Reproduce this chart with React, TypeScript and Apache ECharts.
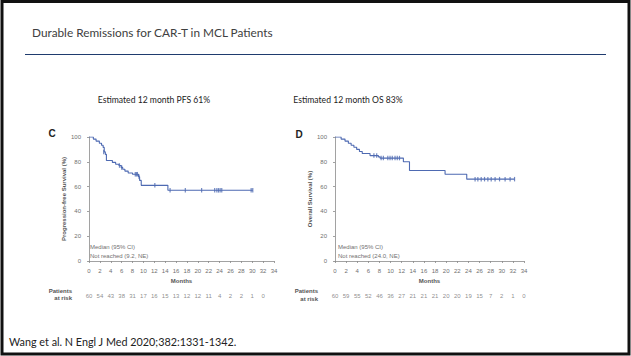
import React, { useEffect, useRef } from "react";
import * as echarts from "echarts";

// Kaplan–Meier steps (months, survival %)
const pfsTimes = [0, 0.8, 1.3, 1.9, 2.3, 2.6, 2.8, 3.0, 3.2, 4.3, 4.9, 5.5, 5.9, 6.2, 6.6, 7.2, 8.0, 9.1, 9.3, 9.6, 14.5, 30.1];
const pfsSurv = [100, 98.3, 96.7, 95, 93.3, 91.6, 88, 86, 81, 79.5, 78, 77, 75.5, 74, 72.5, 71, 70, 68, 65, 61, 57, 57];
const pfsCensorTimes = [2.7, 5.6, 6.0, 8.5, 8.7, 8.9, 9.2, 12.1, 14.9, 17.7, 20.7, 23.1, 23.5, 23.8, 24.1, 24.4, 29.8, 30.1];
const pfsCensorSurv = [88, 77, 75.5, 70, 70, 70, 68, 61, 57, 57, 57, 57, 57, 57, 57, 57, 57, 57];

const osTimes = [0, 1.1, 1.8, 2.4, 2.9, 3.4, 3.9, 4.4, 4.9, 6.3, 7.8, 8.1, 12.3, 13.4, 19.8, 23.7, 32.3];
const osSurv = [100, 98.3, 96.7, 95, 93.3, 91.7, 90, 88.3, 86.7, 85, 84, 83, 80, 73, 70, 66, 66];
const osCensorTimes = [7.0, 7.5, 8.3, 8.7, 9.5, 9.9, 10.3, 10.8, 11.2, 11.6, 25.2, 25.7, 26.3, 26.9, 27.5, 28.1, 28.8, 29.6, 30.6, 31.5, 32.3];
const osCensorSurv = [85, 85, 83, 83, 83, 83, 83, 83, 83, 83, 66, 66, 66, 66, 66, 66, 66, 66, 66, 66, 66];

// Patients at risk, every 2 months
const pfsRisk = [60, 54, 43, 38, 31, 17, 16, 15, 13, 12, 12, 11, 4, 2, 2, 1, 0];
const osRisk = [60, 59, 55, 52, 46, 36, 27, 21, 21, 21, 20, 20, 19, 15, 7, 2, 1, 0];
const riskStep = 2;

const title = "Durable Remissions for CAR-T in MCL Patients";
const pfsHeading = "Estimated 12 month PFS 61%";
const osHeading = "Estimated 12 month OS 83%";
const footer = "Wang et al. N Engl J Med 2020;382:1331-1342.";

const BLUE = "#4e6ab2";
const AX = "#8a8a8a";
const TXT = "#707070";

function pairs(a: number[], b: number[]) {
  return a.map((v, i) => [v, b[i]]);
}

export default function App() {
  const ref = useRef<HTMLDivElement>(null);
  useEffect(() => {
    if (!ref.current) return;
    const chart = echarts.init(ref.current, undefined, { renderer: "svg" });
    const mainX = (gi: number) => ({
      type: "value",
      gridIndex: gi,
      min: 0,
      max: 34,
      interval: 2,
      offset: 4,
      axisLine: { show: true, lineStyle: { color: AX, width: 0.8 } },
      axisTick: { show: true, length: 2, lineStyle: { color: AX, width: 0.8 } },
      axisLabel: { fontSize: 6, color: TXT, margin: 3, fontFamily: "Liberation Sans" },
      splitLine: { show: false },
      name: "Months",
      nameLocation: "middle",
      nameGap: 13,
      nameTextStyle: { fontSize: 6, color: "#555", fontWeight: "bold", fontFamily: "Liberation Sans" },
    });
    const mainY = (gi: number, name: string) => ({
      type: "value",
      gridIndex: gi,
      min: 0,
      max: 100,
      interval: 20,
      offset: 5,
      axisLine: { show: true, lineStyle: { color: AX, width: 0.8 } },
      axisTick: { show: true, length: 2, lineStyle: { color: AX, width: 0.8 } },
      axisLabel: { fontSize: 6, color: TXT, margin: 3, fontFamily: "Liberation Sans" },
      splitLine: { show: false },
      name,
      nameLocation: "middle",
      nameGap: 17,
      nameTextStyle: { fontSize: 6, color: "#555", fontWeight: "bold", fontFamily: "Liberation Sans" },
    });
    const riskX = (gi: number) => ({
      type: "value", gridIndex: gi, min: 0, max: 34, show: false,
    });
    const riskY = (gi: number) => ({
      type: "value", gridIndex: gi, min: 0, max: 1, show: false,
    });
    const riskSeries = (gi: number, arr: number[]) => ({
      type: "scatter",
      xAxisIndex: gi,
      yAxisIndex: gi,
      symbolSize: 0,
      itemStyle: { color: TXT },
      data: arr.map((v, i) => [i * riskStep, 0.5, v]),
      label: {
        show: true,
        position: "inside",
        formatter: (p: any) => String(p.data[2]),
        fontSize: 6,
        color: TXT,
        textBorderWidth: 0,
        fontFamily: "Liberation Sans",
      },
    });
    const smallText = { fontSize: 6, fill: TXT, fontFamily: "Liberation Sans" };
    chart.setOption({
      animation: false,
      backgroundColor: "#ffffff",
      grid: [
        { left: 89, top: 137, width: 185, height: 124 },
        { left: 335, top: 137, width: 189, height: 124 },
        { left: 89, top: 290, width: 185, height: 12 },
        { left: 335, top: 290, width: 189, height: 12 },
      ],
      xAxis: [mainX(0), mainX(1), riskX(2), riskX(3)],
      yAxis: [
        mainY(0, "Progression-free Survival (%)"),
        mainY(1, "Overall Survival (%)"),
        riskY(2),
        riskY(3),
      ],
      series: [
        {
          type: "line", xAxisIndex: 0, yAxisIndex: 0, step: "end", showSymbol: false,
          data: pairs(pfsTimes, pfsSurv), lineStyle: { color: BLUE, width: 1.1 },
        },
        {
          type: "scatter", xAxisIndex: 0, yAxisIndex: 0, symbol: "rect", symbolSize: [1.2, 4.5],
          data: pairs(pfsCensorTimes, pfsCensorSurv), itemStyle: { color: BLUE },
        },
        {
          type: "line", xAxisIndex: 1, yAxisIndex: 1, step: "end", showSymbol: false,
          data: pairs(osTimes, osSurv), lineStyle: { color: BLUE, width: 1.1 },
        },
        {
          type: "scatter", xAxisIndex: 1, yAxisIndex: 1, symbol: "rect", symbolSize: [1.2, 4.5],
          data: pairs(osCensorTimes, osCensorSurv), itemStyle: { color: BLUE },
        },
        riskSeries(2, pfsRisk),
        riskSeries(3, osRisk),
      ],
      graphic: [
        {
          type: "rect", shape: { x: 2, y: 1.5, width: 627, height: 352.5 },
          style: { fill: "none", stroke: "#111", lineWidth: 3 }, silent: true,
        },
        {
          type: "text", x: 32, y: 32,
          style: { text: title, fontSize: 11.8, fill: "#404040", fontFamily: "Lato", verticalAlign: "middle" },
        },
        {
          type: "line", shape: { x1: 25, y1: 54.5, x2: 606, y2: 54.5 },
          style: { stroke: "#1f3b6e", lineWidth: 1 },
        },
        {
          type: "text", x: 154, y: 100,
          style: { text: pfsHeading, fontSize: 8.6, fill: "#222", fontFamily: "Lato", align: "center", verticalAlign: "middle" },
        },
        {
          type: "text", x: 348, y: 100,
          style: { text: osHeading, fontSize: 8.6, fill: "#222", fontFamily: "Lato", align: "center", verticalAlign: "middle" },
        },
        {
          type: "text", x: 52, y: 133,
          style: { text: "C", fontSize: 10, fontWeight: "bold", fill: "#222", fontFamily: "Liberation Sans", align: "center", verticalAlign: "middle" },
        },
        {
          type: "text", x: 299, y: 134,
          style: { text: "D", fontSize: 10, fontWeight: "bold", fill: "#222", fontFamily: "Liberation Sans", align: "center", verticalAlign: "middle" },
        },
        { type: "text", x: 90, y: 247, style: { ...smallText, text: "Median (95% CI)", verticalAlign: "middle" } },
        { type: "text", x: 90, y: 256, style: { ...smallText, text: "Not reached (9.2, NE)", verticalAlign: "middle" } },
        { type: "text", x: 338, y: 247, style: { ...smallText, text: "Median (95% CI)", verticalAlign: "middle" } },
        { type: "text", x: 338, y: 256, style: { ...smallText, text: "Not reached (24.0, NE)", verticalAlign: "middle" } },
        { type: "text", x: 72, y: 291, style: { ...smallText, fill: "#555", fontWeight: "bold", text: "Patients", align: "right", verticalAlign: "middle" } },
        { type: "text", x: 72, y: 298, style: { ...smallText, fill: "#555", fontWeight: "bold", text: "at risk", align: "right", verticalAlign: "middle" } },
        { type: "text", x: 318, y: 291, style: { ...smallText, fill: "#555", fontWeight: "bold", text: "Patients", align: "right", verticalAlign: "middle" } },
        { type: "text", x: 318, y: 299, style: { ...smallText, fill: "#555", fontWeight: "bold", text: "at risk", align: "right", verticalAlign: "middle" } },
        {
          type: "text", x: 9, y: 341,
          style: { text: footer, fontSize: 10.8, fill: "#222", fontFamily: "Lato", verticalAlign: "middle" },
        },
      ],
    });
    return () => chart.dispose();
  }, []);
  return (
    <div
      ref={ref}
      style={{ position: "fixed", left: 0, top: 0, width: 631, height: 356, background: "#fff" }}
    />
  );
}
